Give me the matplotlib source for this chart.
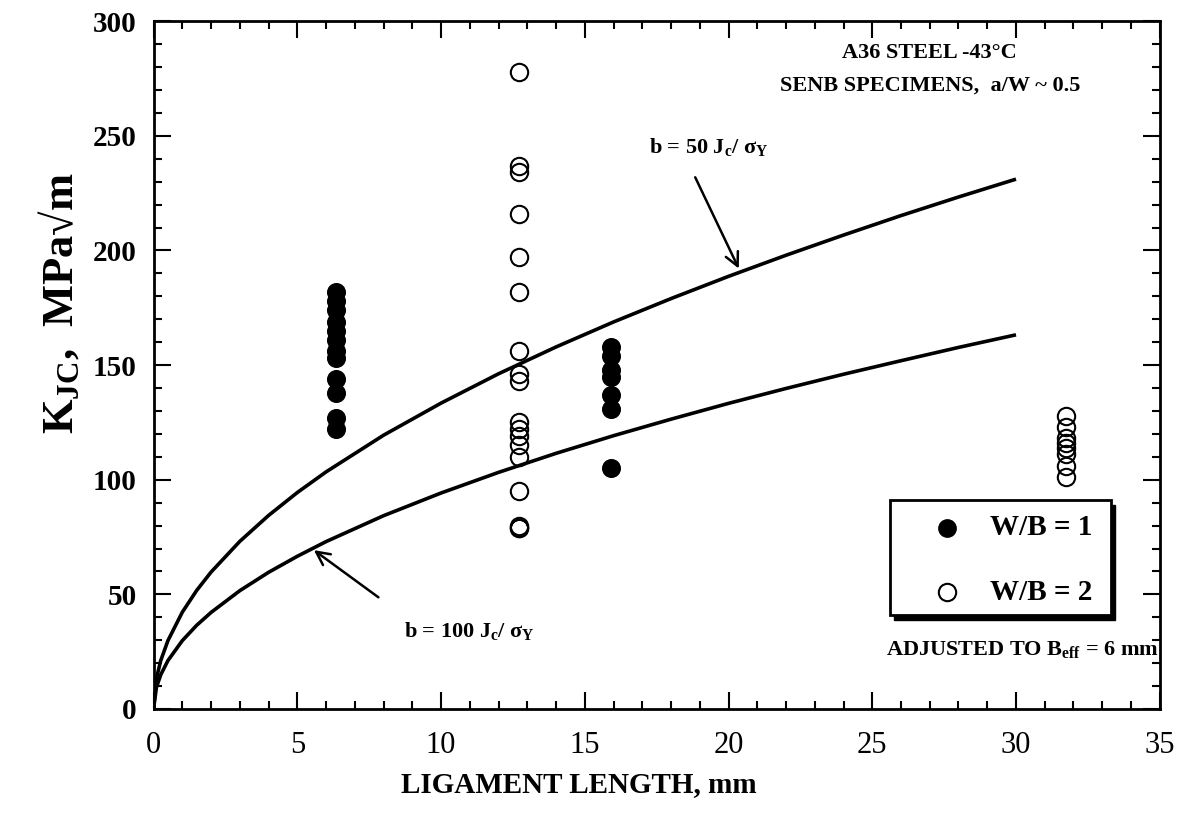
import matplotlib
matplotlib.use("Agg")
import matplotlib.pyplot as plt
from matplotlib.patches import Rectangle
from matplotlib.ticker import MultipleLocator

plt.rcParams['font.family'] = ['Liberation Serif', 'DejaVu Serif']
plt.rcParams['mathtext.fontset'] = 'custom'
plt.rcParams['mathtext.rm'] = 'Liberation Serif:bold'
plt.rcParams['mathtext.it'] = 'Liberation Serif:bold'
plt.rcParams['mathtext.bf'] = 'Liberation Serif:bold'

# ligament length (mm) and K_JC (MPa sqrt(m))
wb1_x = [6.35] * 12 + [15.9] * 7
wb1_k = [182, 178, 174, 169, 165, 161, 156, 153, 144, 138, 127, 122,
         158, 154, 148, 145, 137, 131, 105]

wb2_x = [12.7] * 18 + [31.75] * 8
wb2_k = [278, 237, 234, 216, 197, 182, 156, 146, 143, 125, 122, 119, 115,
         110, 95, 80, 79, 79,
         128, 123, 118, 116, 114, 111, 106, 101]

# size requirement curves
curve_b = [0, 0.1, 0.25, 0.5, 1, 1.5, 2, 3, 4, 5, 6, 8, 10, 12, 14, 16,
           18, 20, 22, 24, 26, 28, 30]
curve_50 = [0, 13.3, 21.1, 29.8, 42.2, 51.7, 59.7, 73.1, 84.4, 94.4, 103.4,
            119.4, 133.4, 146.2, 157.9, 168.8, 179.0, 188.7, 197.9, 206.7,
            215.2, 223.3, 231.1]
curve_100 = [0, 9.4, 14.9, 21.1, 29.8, 36.5, 42.1, 51.6, 59.6, 66.6, 73.0,
             84.3, 94.2, 103.2, 111.5, 119.2, 126.4, 133.3, 139.8, 146.0,
             151.9, 157.7, 163.2]

fig = plt.figure(figsize=(11.81, 8.14), dpi=100)
ax = fig.add_axes([0.130, 0.129, 0.852, 0.845])

ax.plot(curve_b, curve_50, color='black', lw=2.6, solid_capstyle='butt')
ax.plot(curve_b, curve_100, color='black', lw=2.6, solid_capstyle='butt')

ax.plot(wb1_x, wb1_k, 'o', ms=12.5, mfc='black', mec='black', mew=1.2,
        linestyle='none')
ax.plot(wb2_x, wb2_k, 'o', ms=12.5, mfc='none', mec='black', mew=1.5,
        linestyle='none')

ax.set_xlim(0, 35)
ax.set_ylim(0, 300)
ax.xaxis.set_major_locator(MultipleLocator(5))
ax.xaxis.set_minor_locator(MultipleLocator(1))
ax.yaxis.set_major_locator(MultipleLocator(50))
ax.yaxis.set_minor_locator(MultipleLocator(10))
ax.tick_params(which='both', direction='in', top=True, right=True,
               width=1.5, color='black')
ax.tick_params(which='major', length=12)
ax.tick_params(which='minor', length=6)
ax.tick_params(axis='x', labelsize=22, pad=16)
ax.tick_params(axis='y', labelsize=21, pad=12)
for lab in ax.get_yticklabels():
    lab.set_fontweight('bold')
for sp in ax.spines.values():
    sp.set_linewidth(2)

ax.set_xlabel('LIGAMENT LENGTH, mm', fontsize=21, fontweight='bold')
ax.xaxis.set_label_coords(0.423, -0.09)
ax.set_ylabel(r'K$_{JC}$,  MPa√m', fontsize=32, fontweight='bold')
ax.yaxis.set_label_coords(-0.072, 0.59)

ax.text(27.0, 286, 'A36 STEEL -43°C', fontsize=16, fontweight='bold',
        ha='center', va='center')
ax.text(27.0, 272, 'SENB SPECIMENS,  a/W ~ 0.5', fontsize=16,
        fontweight='bold', ha='center', va='center')

ax.annotate('', xy=(20.4, 191), xytext=(18.8, 233),
            arrowprops=dict(arrowstyle='->', lw=1.8, color='black',
                            mutation_scale=24))
ax.text(19.3, 245, r'b = 50 J$_c$/ $\sigma_Y$', fontsize=16,
        fontweight='bold', ha='center', va='center')

ax.annotate('', xy=(5.5, 70), xytext=(7.9, 48),
            arrowprops=dict(arrowstyle='->', lw=1.8, color='black',
                            mutation_scale=24))
ax.text(11.0, 34, r'b = 100 J$_c$/ $\sigma_Y$', fontsize=16,
        fontweight='bold', ha='center', va='center')

# legend box with drop shadow
ax.add_patch(Rectangle((25.75, 39), 7.7, 50, facecolor='black',
                       edgecolor='black', zorder=4))
ax.add_patch(Rectangle((25.6, 41), 7.7, 50, facecolor='white',
                       edgecolor='black', lw=2, zorder=5))
ax.plot([27.6], [79], 'o', ms=12.5, mfc='black', mec='black', zorder=6)
ax.plot([27.6], [51], 'o', ms=12.5, mfc='white', mec='black', mew=1.5,
        zorder=6)
ax.text(29.1, 79, 'W/B = 1', fontsize=21, fontweight='bold', va='center',
        zorder=6)
ax.text(29.1, 51, 'W/B = 2', fontsize=21, fontweight='bold', va='center',
        zorder=6)

ax.text(34.95, 26, r'ADJUSTED TO B$_{eff}$ = 6 mm', fontsize=16,
        fontweight='bold', ha='right', va='center')

fig.savefig('out.png', dpi=100)
